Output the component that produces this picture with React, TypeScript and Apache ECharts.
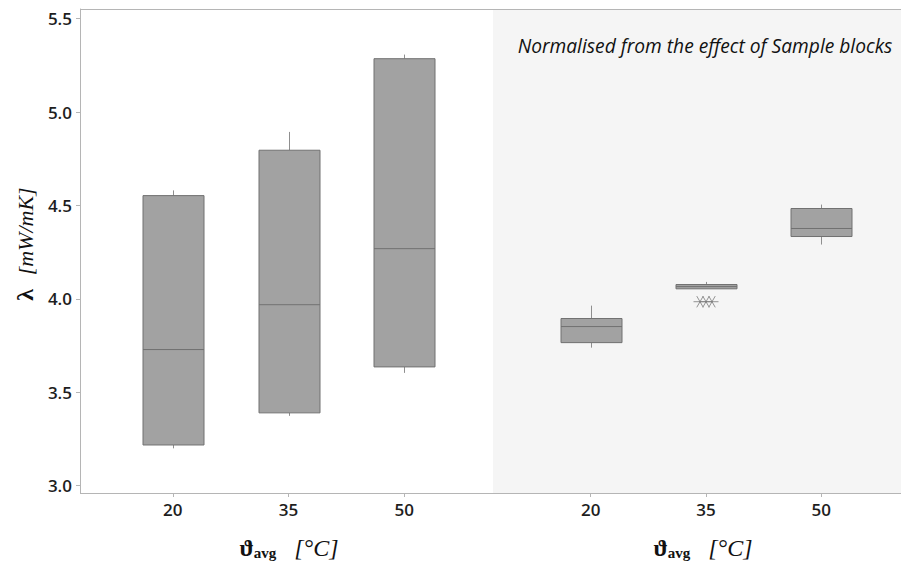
import React, { useEffect, useRef } from "react";
import * as echarts from "echarts";

const categories = ["20", "35", "50"];
// [categoryIndex, min, Q1, median, Q3, max]
const rawBoxes = [
  [0, 3.2, 3.218, 3.729, 4.553, 4.581],
  [1, 3.374, 3.39, 3.969, 4.796, 4.894],
  [2, 3.604, 3.636, 4.269, 5.286, 5.308],
];
const normalisedBoxes = [
  [0, 3.739, 3.766, 3.852, 3.895, 3.964],
  [1, 4.054, 4.054, 4.066, 4.077, 4.091],
  [2, 4.291, 4.334, 4.377, 4.484, 4.505],
];
// outliers of the normalised 35 group: [categoryIndex, value]
const normalisedOutliers = [
  [1, 3.985],
  [1, 3.985],
  [1, 3.985],
];
const yTicks = [3.0, 3.5, 4.0, 4.5, 5.0, 5.5];
const Y_MIN = 2.961;
const Y_MAX = 5.552;
const annotation = "Normalised from the effect of Sample blocks";

const BOX_W = 61;
const JITTER = [-6, 0, 6];

function boxRender(params: any, api: any) {
  const x = api.value(0);
  const pMin = api.coord([x, api.value(1)]);
  const pQ1 = api.coord([x, api.value(2)]);
  const pMed = api.coord([x, api.value(3)]);
  const pQ3 = api.coord([x, api.value(4)]);
  const pMax = api.coord([x, api.value(5)]);
  const cx = Math.round(pMed[0]) + 0.5;
  const h = BOX_W / 2;
  const whisk = { stroke: "#8f8f8f", lineWidth: 1 };
  return {
    type: "group",
    children: [
      { type: "line", shape: { x1: cx, y1: pMax[1], x2: cx, y2: pQ3[1] }, style: whisk },
      { type: "line", shape: { x1: cx, y1: pQ1[1], x2: cx, y2: pMin[1] }, style: whisk },
      {
        type: "rect",
        shape: { x: cx - h, y: pQ3[1], width: BOX_W, height: Math.max(pQ1[1] - pQ3[1], 1) },
        style: { fill: "#a2a2a2", stroke: "#717171", lineWidth: 1 },
      },
      {
        type: "line",
        shape: { x1: cx - h, y1: pMed[1], x2: cx + h, y2: pMed[1] },
        style: { stroke: "#717171", lineWidth: 1 },
      },
    ],
  };
}

function starRender(params: any, api: any) {
  const p = api.coord([api.value(0), api.value(1)]);
  const cx = p[0] + JITTER[params.dataIndex % JITTER.length];
  const cy = p[1];
  const r = 6.5;
  const dx = r * Math.cos(Math.PI / 3);
  const dy = r * Math.sin(Math.PI / 3);
  const st = { stroke: "#7a7a7a", lineWidth: 0.8 };
  return {
    type: "group",
    children: [
      { type: "line", shape: { x1: cx - r, y1: cy, x2: cx + r, y2: cy }, style: st },
      { type: "line", shape: { x1: cx - dx, y1: cy - dy, x2: cx + dx, y2: cy + dy }, style: st },
      { type: "line", shape: { x1: cx - dx, y1: cy + dy, x2: cx + dx, y2: cy - dy }, style: st },
    ],
  };
}

export default function App() {
  const ref = useRef<HTMLDivElement>(null);
  useEffect(() => {
    if (!ref.current) return;
    const chart = echarts.init(ref.current, null, { renderer: "svg" });
    const labelStyle = {
      fontFamily: "Open Sans",
      fontWeight: 600,
      fontSize: 17,
      color: "#1e1e1e",
    };
    const axisGray = "#b5b5b5";
    const xAxisBase = {
      type: "category",
      data: categories,
      axisLine: { show: false },
      axisTick: { show: true, alignWithLabel: true, length: 4, lineStyle: { color: axisGray } },
      axisLabel: { ...labelStyle, margin: 8 },
      splitLine: { show: false },
    };
    const yBase = {
      type: "value",
      min: Y_MIN,
      max: Y_MAX,
      splitLine: { show: false },
    };
    const serif = "Liberation Serif";
    const xTitleRich = {
      g: { fontFamily: serif, fontWeight: "bold", fontSize: 24, fill: "#111" },
      s: { fontFamily: serif, fontWeight: "bold", fontSize: 15, fill: "#111", padding: [10, 0, 0, 0] },
      sp: { fontFamily: serif, fontSize: 18, fill: "#111" },
      u: { fontFamily: serif, fontStyle: "italic", fontSize: 24, fill: "#111" },
    };
    const xTitleText = "{g|ϑ}{s|avg}{sp|    }{u|[°C]}";
    chart.setOption({
      animation: false,
      backgroundColor: "#ffffff",
      grid: [
        { left: 115, top: 9, width: 347, height: 484 },
        { left: 533, top: 9, width: 346, height: 484 },
      ],
      xAxis: [
        { ...xAxisBase, gridIndex: 0 },
        { ...xAxisBase, gridIndex: 1 },
      ],
      yAxis: [
        {
          ...yBase,
          gridIndex: 0,
          offset: 35,
          axisLine: { show: true, lineStyle: { color: axisGray } },
          axisTick: { show: true, length: 4, customValues: yTicks, lineStyle: { color: axisGray } },
          axisLabel: {
            ...labelStyle,
            margin: 8,
            customValues: yTicks,
            formatter: (v: number) => v.toFixed(1),
          },
        },
        {
          ...yBase,
          gridIndex: 1,
          axisLine: { show: false },
          axisTick: { show: false },
          axisLabel: { show: false },
        },
      ],
      graphic: [
        {
          type: "rect",
          z: -10,
          shape: { x: 493, y: 9, width: 408, height: 484 },
          style: { fill: "#f5f5f5" },
          silent: true,
        },
        {
          type: "line",
          shape: { x1: 80, y1: 9.5, x2: 901, y2: 9.5 },
          style: { stroke: axisGray, lineWidth: 1 },
        },
        {
          type: "line",
          shape: { x1: 80, y1: 493.5, x2: 901, y2: 493.5 },
          style: { stroke: axisGray, lineWidth: 1 },
        },
        {
          type: "text",
          x: 705,
          y: 45,
          style: {
            text: annotation,
            fontFamily: "Open Sans",
            fontStyle: "italic",
            fontSize: 19.2,
            fill: "#111",
            align: "center",
            verticalAlign: "middle",
          },
        },
        {
          type: "text",
          x: 25,
          y: 244,
          rotation: Math.PI / 2,
          style: {
            text: "{l|λ}{sp|   }{u|[mW/mK]}",
            align: "center",
            verticalAlign: "middle",
            rich: {
              l: { fontFamily: serif, fontWeight: "bold", fontSize: 24, fill: "#111" },
              sp: { fontFamily: serif, fontSize: 18, fill: "#111" },
              u: { fontFamily: serif, fontStyle: "italic", fontSize: 22, fill: "#111" },
            },
          },
        },
        {
          type: "text",
          x: 289,
          y: 548,
          style: { text: xTitleText, align: "center", verticalAlign: "middle", rich: xTitleRich },
        },
        {
          type: "text",
          x: 703,
          y: 548,
          style: { text: xTitleText, align: "center", verticalAlign: "middle", rich: xTitleRich },
        },
      ],
      series: [
        {
          type: "custom",
          xAxisIndex: 0,
          yAxisIndex: 0,
          renderItem: boxRender,
          encode: { x: 0, y: [1, 2, 3, 4, 5] },
          data: rawBoxes,
          clip: false,
        },
        {
          type: "custom",
          xAxisIndex: 1,
          yAxisIndex: 1,
          renderItem: boxRender,
          encode: { x: 0, y: [1, 2, 3, 4, 5] },
          data: normalisedBoxes,
          clip: false,
        },
        {
          type: "custom",
          xAxisIndex: 1,
          yAxisIndex: 1,
          renderItem: starRender,
          encode: { x: 0, y: 1 },
          data: normalisedOutliers,
        },
      ],
    });
    return () => chart.dispose();
  }, []);
  return <div ref={ref} style={{ width: 901, height: 569, position: "absolute", left: 0, top: 0 }} />;
}
